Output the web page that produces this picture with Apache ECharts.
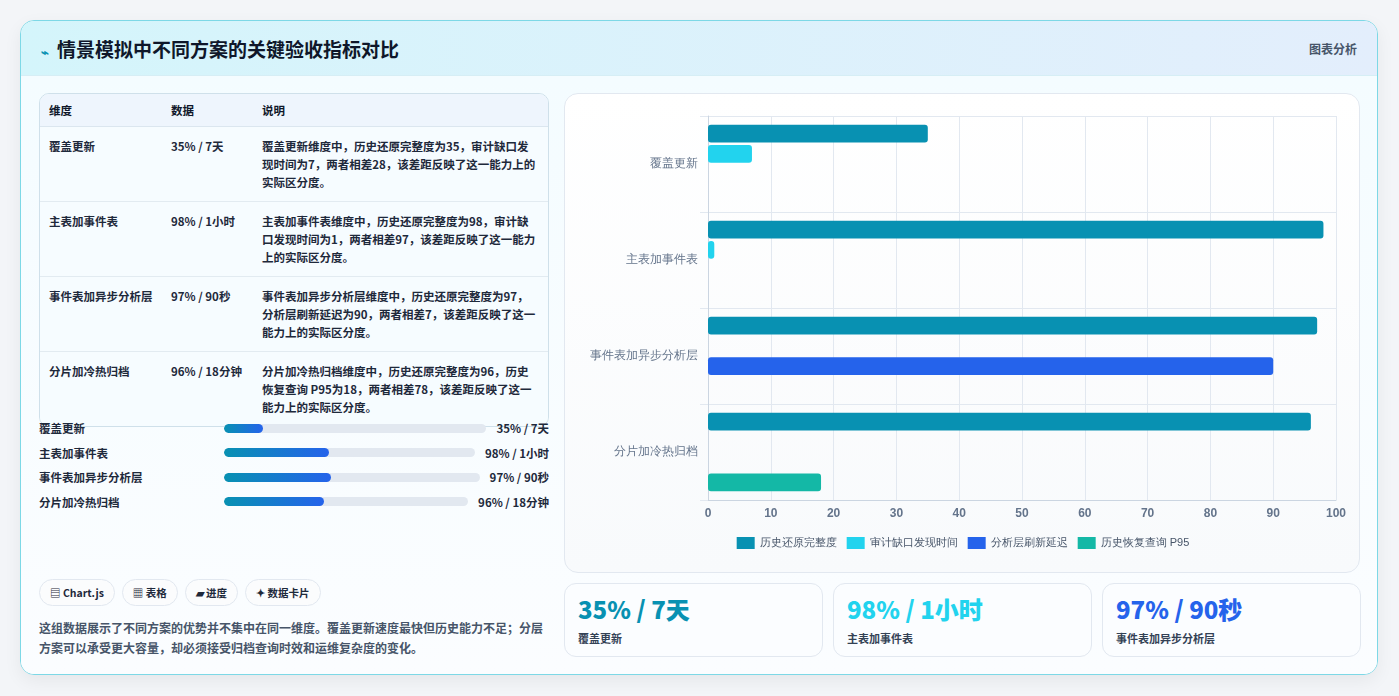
<!DOCTYPE html>
<html><head><meta charset="utf-8">
<script src="https://cdn.jsdelivr.net/npm/echarts@6/dist/echarts.min.js"></script>
<style>
*{box-sizing:border-box;margin:0;padding:0}
body{width:1399px;height:696px;background:#f3f5f8;font-family:"Noto Sans CJK SC","Noto Sans",sans-serif;color:#1e293b;overflow:hidden}
.card{position:absolute;left:20px;top:20px;width:1358px;height:655px;background:#fff;border:1px solid #7dd8e6;border-radius:14px;overflow:hidden;box-shadow:0 6px 18px rgba(0,0,0,.06)}
.hdr{height:55px;background:linear-gradient(90deg,#d4f5fb,#e3eefc);display:flex;align-items:center;justify-content:space-between;padding:0 20px 0 20px;border-bottom:1px solid #d6eef5}
.hdr h1{font-size:19px;font-weight:700;color:#0f172a}
.hdr h1 span{color:#0891b2;font-size:13px;margin-right:8px}
.hdr .r{font-size:12px;color:#475569;font-weight:600}
.body{position:absolute;top:55px;left:0;right:0;bottom:0;background:linear-gradient(180deg,#f4fcff,#fbfdff)}
table{position:absolute;left:18px;top:17px;width:510px;border-collapse:separate;border-spacing:0;border:1px solid #cfe0ea;border-radius:10px;overflow:hidden;font-size:11.5px}
th{background:#eef5fd;text-align:left;font-weight:600;height:33px;padding:0 9px;color:#0f172a;border-bottom:1px solid #dbe6ef}
td{vertical-align:top;padding:10px 9px;line-height:18px;font-weight:600;border-bottom:1px solid #e2ebf1;background:#f6fcff}
tr:last-child td{border-bottom:none}
.prog{position:absolute;left:18px;width:510px;display:flex;align-items:center;font-size:11.5px;font-weight:600}
.prog .lab{width:185px}
.prog .trk{flex:1;height:9px;border-radius:5px;background:#e2e8f0;margin-right:10px;overflow:hidden}
.prog .fill{height:100%;border-radius:5px;background:linear-gradient(90deg,#0891b2,#2563eb)}
.tags{position:absolute;left:18px;top:503px;display:flex;gap:7px}
.tag{border:1px solid #e2e8f0;border-radius:14px;padding:5px 10px;font-size:10.5px;font-weight:600;background:#fbfcfd}
.desc{position:absolute;left:18px;top:542px;width:512px;font-size:12px;line-height:20px;color:#475569;font-weight:600}
.panel{position:absolute;left:543px;top:17px;width:796px;height:480px;border:1px solid #e2e8f0;border-radius:14px;background:linear-gradient(180deg,#fff,#f8fafc)}
#chart{position:absolute;left:0;top:0;width:796px;height:480px}
.kpi{position:absolute;top:507px;width:259px;height:74px;border:1px solid #e2e8f0;border-radius:12px;background:#fbfdff;padding:10px 13px}
.kpi b{display:block;font-size:24px;line-height:30px;font-weight:800}
.kpi s{text-decoration:none;font-size:11px;font-weight:600;color:#334155}
</style></head><body>
<div class="card">
<div class="hdr"><h1><span>⌁</span>情景模拟中不同方案的关键验收指标对比</h1><div class="r">图表分析</div></div>
<div class="body">
<table id="tbl"><tr><th style="width:122px">维度</th><th style="width:91px">数据</th><th>说明</th></tr></table>
<div id="progs"></div>
<div class="tags"><div class="tag">▤ Chart.js</div><div class="tag">▦ 表格</div><div class="tag">▰ 进度</div><div class="tag">✦ 数据卡片</div></div>
<div class="desc">这组数据展示了不同方案的优势并不集中在同一维度。覆盖更新速度最快但历史能力不足；分层方案可以承受更大容量，却必须接受归档查询时效和运维复杂度的变化。</div>
<div class="panel"><div id="chart"></div></div>
<div id="kpis"></div>
</div></div>
<script>
const categories=['覆盖更新','主表加事件表','事件表加异步分析层','分片加冷热归档'];
const seriesNames=['历史还原完整度','审计缺口发现时间','分析层刷新延迟','历史恢复查询 P95'];
const seriesColors=['#0891b2','#22d3ee','#2563eb','#14b8a6'];
const histComplete=[35,98,97,96];
const auditGap=[7,1,null,null];
const analysisLag=[null,null,90,null];
const restoreP95=[null,null,null,18];
const dataLabels=['35% / 7天','98% / 1小时','97% / 90秒','96% / 18分钟'];
const descs=['覆盖更新维度中，历史还原完整度为35，审计缺口发现时间为7，两者相差28，该差距反映了这一能力上的实际区分度。',
'主表加事件表维度中，历史还原完整度为98，审计缺口发现时间为1，两者相差97，该差距反映了这一能力上的实际区分度。',
'事件表加异步分析层维度中，历史还原完整度为97，分析层刷新延迟为90，两者相差7，该差距反映了这一能力上的实际区分度。',
'分片加冷热归档维度中，历史还原完整度为96，历史恢复查询 P95为18，两者相差78，该差距反映了这一能力上的实际区分度。'];
const progPct=[15,42,42,41];
const kpiColors=['#0891b2','#22d3ee','#2563eb'];

const tbl=document.getElementById('tbl');
categories.forEach((c,i)=>{const tr=document.createElement('tr');tr.innerHTML=`<td>${c}</td><td>${dataLabels[i]}</td><td>${descs[i]}</td>`;tbl.appendChild(tr);});
const pg=document.getElementById('progs');
categories.forEach((c,i)=>{const d=document.createElement('div');d.className='prog';d.style.top=(344+i*24.5)+'px';
d.innerHTML=`<div class="lab">${c}</div><div class="trk"><div class="fill" style="width:${progPct[i]}%"></div></div><div>${dataLabels[i]}</div>`;pg.appendChild(d);});
const kp=document.getElementById('kpis');
[0,1,2].forEach(i=>{const d=document.createElement('div');d.className='kpi';d.style.left=(543+i*269)+'px';
d.innerHTML=`<b style="color:${kpiColors[i]}">${dataLabels[i]}</b><s>${categories[i]}</s>`;kp.appendChild(d);});

const chart=echarts.init(document.getElementById('chart'));
const vals=[histComplete,auditGap,analysisLag,restoreP95];
chart.setOption({
 animation:false,
 grid:{left:143,right:25,top:22,bottom:74},
 xAxis:{type:'value',min:0,max:100,interval:10,axisLine:{show:true,lineStyle:{color:'#cbd5e1'}},axisTick:{show:false},
  axisLabel:{color:'#64748b',fontSize:12,fontWeight:600},splitLine:{lineStyle:{color:'#e2e8f0'}}},
 yAxis:{type:'category',data:categories,inverse:true,axisLine:{lineStyle:{color:'#cbd5e1'}},axisTick:{show:true,length:8,lineStyle:{color:'#e2e8f0'}},
  axisLabel:{color:'#64748b',fontSize:12,margin:10},splitLine:{show:true,lineStyle:{color:'#e2e8f0'}}},
 legend:{bottom:20,left:'center',itemWidth:18,itemHeight:12,itemGap:10,textStyle:{color:'#475569',fontSize:11},icon:'rect'},
 series:seriesNames.map((n,i)=>({name:n,type:'bar',data:vals[i],barGap:'14%',barCategoryGap:'18%',
  itemStyle:{color:seriesColors[i],borderRadius:3}}))
});
</script>
</body></html>
